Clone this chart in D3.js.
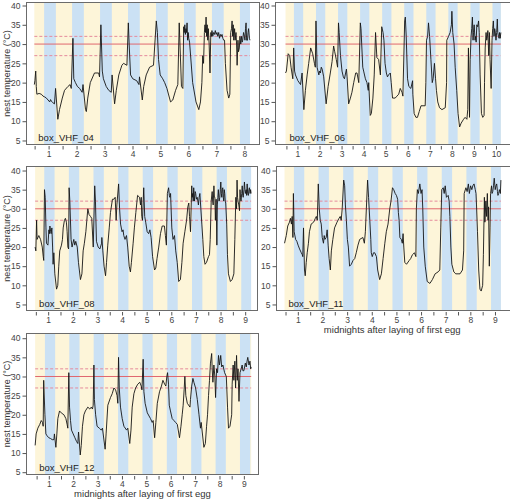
<!DOCTYPE html>
<html><head><meta charset="utf-8">
<script src="https://cdn.jsdelivr.net/npm/d3@7"></script>
<style>
html,body{margin:0;padding:0;background:#fff;}
svg{display:block;font-family:"Liberation Sans",Arial,sans-serif;}
</style></head>
<body>
<svg id="chart" width="510" height="502"></svg>
<script>
// ---------------- data ----------------
const yTicks = [5, 10, 15, 20, 25, 30, 35, 40];
const refSolid = 30;
const refDashed = [27, 32];
const nightStart = -0.16, nightEnd = 0.26; // relative to midnight (days)

const names = ["box_VHF_04", "box_VHF_06", "box_VHF_08", "box_VHF_11", "box_VHF_12"];
const xTitle = "midnights after laying of first egg";
const yTitle = "nest temperature (°C)";

const nights04 = [1,2,3,4,5,6,7,8];
const nights06 = [1,2,3,4,5,6,7,8,9,10];
const nights08 = [1,2,3,4,5,6,7,8,9];
const nights11 = [1,2,3,4,5,6,7,8,9];
const nights12 = [1,2,3,4,5,6,7,8,9];

const box04 = [[0.49,19.5],[0.51,20.5],[0.54,23],[0.56,19],[0.58,17],[0.66,17.2],[0.74,17],[0.80,16.5],[0.86,16.3],[0.92,16],[0.98,15.5],[1.04,15],[1.07,15.6],[1.10,15.2],[1.15,14.8],[1.21,14.5],[1.25,18.5],[1.33,10.5],[1.39,13],[1.49,16],[1.57,18],[1.69,19],[1.77,19.5],[1.81,18.5],[1.87,31.5],[1.90,21],[1.96,20],[2.03,19],[2.11,18.5],[2.20,17.5],[2.23,19.5],[2.32,13],[2.35,12.5],[2.40,16],[2.49,20],[2.64,22.5],[2.79,22.5],[2.82,21.5],[2.87,35],[2.92,23],[2.96,21],[3.06,19],[3.15,18],[3.24,17.5],[3.27,22],[3.36,14.5],[3.42,18],[3.51,22],[3.62,24.5],[3.68,25],[3.80,24.5],[3.85,35.5],[3.88,30],[3.93,22],[4.01,21],[4.15,20.5],[4.23,19.5],[4.25,21.5],[4.35,15.5],[4.40,19],[4.49,22],[4.61,24],[4.75,24.5],[4.85,36],[4.89,33],[4.93,26],[4.99,22],[5.08,21],[5.15,20],[5.23,18.5],[5.36,15],[5.44,15.5],[5.54,18],[5.62,19.5],[5.67,35.5],[5.75,19],[5.80,18.5],[5.83,34.5],[5.85,33],[5.87,35],[5.89,32.5],[5.91,34],[5.93,33],[5.95,35.5],[5.97,31],[5.99,33],[6.01,31.5],[6.04,30.5],[6.15,20],[6.27,15],[6.37,13],[6.43,15],[6.48,20],[6.51,27],[6.54,25],[6.57,33],[6.59,35],[6.61,33],[6.63,37],[6.65,32],[6.67,35],[6.69,31],[6.71,34],[6.74,30],[6.77,22.5],[6.80,33],[6.82,32],[6.84,33.5],[6.87,32],[6.90,33],[6.93,32.5],[6.96,33.5],[6.99,32.5],[7.02,33],[7.05,32],[7.08,33],[7.11,31.5],[7.14,32.5],[7.17,32],[7.20,32.5],[7.23,31.5],[7.26,31],[7.29,31],[7.32,25],[7.38,18],[7.44,16],[7.48,17],[7.51,33],[7.54,34],[7.56,36],[7.58,32],[7.60,35],[7.62,31],[7.65,34],[7.67,31],[7.70,33],[7.72,30],[7.74,24.5],[7.77,31],[7.79,28],[7.82,29],[7.84,32],[7.87,30],[7.90,32],[7.92,30.5],[7.94,31],[7.97,33],[8.00,32],[8.02,31],[8.04,34],[8.06,35.5],[8.08,31],[8.11,31],[8.13,33],[8.15,34],[8.18,31.5],[8.20,31]];

const box06 = [[0.46,22.5],[0.50,23],[0.58,27.5],[0.65,27],[0.71,24],[0.79,21],[0.83,29],[0.87,23],[0.91,22],[1.02,20.5],[1.14,19.5],[1.21,22.5],[1.29,13],[1.36,18],[1.44,22],[1.51,25],[1.60,29],[1.69,27.5],[1.77,25],[1.81,24],[1.84,36],[1.89,24],[1.97,22],[2.00,23],[2.04,22.5],[2.08,24],[2.12,23.5],[2.19,21.5],[2.30,14.5],[2.39,19],[2.49,22.5],[2.57,25.5],[2.64,29.5],[2.69,28],[2.76,26],[2.82,24],[2.86,35.5],[2.89,33],[2.95,27],[3.02,23],[3.08,21.5],[3.13,21],[3.22,23.5],[3.25,21.5],[3.32,14.5],[3.40,16],[3.47,17.5],[3.55,20],[3.64,22.5],[3.70,22.5],[3.78,20],[3.85,35.5],[3.88,34],[3.96,24],[4.00,23],[4.08,21],[4.15,20],[4.21,18],[4.23,20],[4.30,11.5],[4.35,12],[4.42,16],[4.48,22],[4.54,33],[4.60,26.5],[4.68,26],[4.76,22],[4.82,34.5],[4.88,33],[4.92,31],[4.97,25],[5.03,22.5],[5.08,21.5],[5.13,22],[5.21,22.5],[5.25,20],[5.31,16],[5.43,16],[5.51,16.5],[5.59,17],[5.66,18.5],[5.74,17.5],[5.78,16.5],[5.86,36],[5.89,37],[5.93,32],[5.99,21],[6.05,19],[6.14,18.5],[6.22,20.5],[6.23,17],[6.29,12],[6.37,11],[6.44,11],[6.52,12.5],[6.60,14],[6.79,14],[6.82,20],[6.85,31],[6.90,32],[6.94,35.5],[6.99,32],[7.05,26],[7.11,20],[7.15,21],[7.21,25],[7.26,21],[7.30,18],[7.36,15],[7.44,13.5],[7.55,13],[7.70,13.5],[7.76,20],[7.77,31],[7.85,32],[7.92,33],[7.98,35],[8.00,38.5],[8.04,33],[8.10,30],[8.15,24],[8.22,18],[8.28,12],[8.35,8.5],[8.42,9.5],[8.53,10.5],[8.60,11],[8.68,10.5],[8.72,13],[8.75,29],[8.80,11],[8.83,26],[8.87,32],[8.90,34],[8.93,37],[8.96,31],[8.98,33],[9.01,35],[9.05,31],[9.08,32],[9.10,30.5],[9.13,35],[9.17,34.5],[9.21,36],[9.24,33],[9.28,22],[9.34,12],[9.40,11],[9.46,11.5],[9.48,20],[9.51,29],[9.55,33],[9.58,31],[9.61,32],[9.63,33.5],[9.67,27],[9.70,33],[9.73,26],[9.78,18.5],[9.82,31],[9.85,34],[9.88,36],[9.91,32],[9.94,34],[9.96,33.5],[10.00,31],[10.03,33],[10.06,36.5],[10.08,33],[10.11,32],[10.14,31.5],[10.16,33],[10.19,31.5],[10.22,33]];

const box08 = [[0.47,20],[0.50,19],[0.53,27],[0.55,22],[0.62,23],[0.69,22],[0.76,20],[0.80,17.5],[0.82,16.5],[0.85,35],[0.88,33],[0.91,25],[0.93,21],[0.99,20.5],[1.03,24.5],[1.05,23.5],[1.07,25.5],[1.10,24],[1.12,23.5],[1.15,25],[1.18,20],[1.20,15.5],[1.23,18.5],[1.27,13],[1.34,9],[1.39,10],[1.43,15],[1.47,19],[1.54,20.5],[1.58,22],[1.61,25],[1.66,27],[1.70,27.5],[1.74,26.5],[1.77,24],[1.80,20],[1.83,19.5],[1.85,35.5],[1.88,32],[1.93,22],[1.97,20],[2.04,22],[2.08,20.5],[2.12,21.5],[2.18,20],[2.23,16],[2.31,11.5],[2.37,13],[2.42,19],[2.47,21],[2.53,24],[2.57,27],[2.61,30],[2.66,28.5],[2.72,28],[2.77,27.5],[2.83,20],[2.89,36],[2.92,32],[2.96,21.5],[3.03,20],[3.10,19.5],[3.17,21],[3.18,22.5],[3.22,19],[3.27,15],[3.33,12.5],[3.37,16],[3.42,20.5],[3.48,25],[3.53,29],[3.61,32.5],[3.67,32.5],[3.72,33],[3.76,27],[3.79,31],[3.86,36.5],[3.90,30],[3.94,26],[4.00,24],[4.04,24.5],[4.07,23],[4.12,22],[4.18,23],[4.23,20],[4.29,15],[4.34,13.5],[4.38,16],[4.45,21],[4.50,25],[4.56,29],[4.63,33.5],[4.71,33],[4.75,31],[4.78,33],[4.80,28],[4.83,27],[4.88,35.5],[4.92,28],[4.96,26.5],[5.02,24],[5.08,23.5],[5.13,24.5],[5.18,22.5],[5.24,17.5],[5.32,14],[5.37,14.5],[5.42,17],[5.49,20],[5.56,23.5],[5.63,25.5],[5.72,25.5],[5.76,23],[5.80,20.5],[5.84,34],[5.89,35.5],[5.92,33.5],[5.94,33],[5.97,34],[6.02,25],[6.07,22],[6.13,23],[6.18,19],[6.24,16],[6.30,11],[6.37,11.5],[6.43,16],[6.48,21],[6.55,24],[6.62,27],[6.67,30.5],[6.71,31.5],[6.74,28],[6.78,24],[6.83,36],[6.85,33],[6.87,34],[6.89,32],[6.91,35.5],[6.94,32],[6.97,34.5],[6.99,34],[7.02,32.5],[7.05,33],[7.08,32],[7.10,31],[7.13,33],[7.16,34],[7.20,30],[7.24,26],[7.28,22],[7.32,17.5],[7.37,15.5],[7.43,16],[7.51,17.5],[7.55,18],[7.58,22],[7.62,32],[7.66,34.5],[7.68,32],[7.70,31],[7.73,36],[7.75,33],[7.77,33],[7.79,27],[7.82,32.5],[7.85,20.5],[7.87,31],[7.89,33],[7.91,35],[7.94,32],[7.97,33],[7.99,35],[8.01,37],[8.03,34],[8.05,33],[8.07,35],[8.09,35.5],[8.11,33],[8.13,32],[8.15,35],[8.17,34],[8.19,32],[8.21,31.5],[8.25,26],[8.28,18],[8.32,13],[8.40,11],[8.47,11.5],[8.54,13],[8.58,22],[8.62,33],[8.65,30],[8.67,37.5],[8.69,33],[8.71,32],[8.74,31],[8.77,29.5],[8.79,35],[8.81,33],[8.83,32],[8.86,34],[8.88,36],[8.90,33.5],[8.92,33],[8.95,35],[8.97,37],[8.99,35],[9.01,34],[9.04,35],[9.06,33.5],[9.08,36.5],[9.10,34],[9.13,33.5],[9.15,35],[9.17,35.5],[9.20,34],[9.22,35],[9.24,34]];

const box11 = [[0.46,21],[0.53,23],[0.59,25.5],[0.66,26.5],[0.70,27.5],[0.74,26],[0.77,28],[0.80,22.5],[0.82,34],[0.85,24],[0.91,22],[0.96,21.5],[1.01,20.5],[1.07,19.5],[1.14,18.5],[1.18,18],[1.20,17.5],[1.23,25],[1.27,14],[1.30,12.5],[1.34,16],[1.38,18.5],[1.43,21],[1.47,24],[1.54,26],[1.64,26.5],[1.71,27.5],[1.75,28],[1.79,27],[1.83,36.5],[1.87,30],[1.91,27],[1.95,26],[1.99,22.5],[2.04,21],[2.07,23],[2.10,22],[2.15,22.5],[2.19,24.5],[2.23,20.5],[2.27,17],[2.32,14],[2.36,19],[2.42,22],[2.49,25],[2.59,26.5],[2.67,27.5],[2.72,28],[2.76,27],[2.80,30],[2.86,37.5],[2.90,36],[2.93,31],[2.97,27],[3.01,22],[3.05,20],[3.10,15],[3.17,15.5],[3.24,16.5],[3.31,17],[3.37,18.5],[3.44,20.5],[3.51,22],[3.64,22.5],[3.70,21],[3.74,24],[3.78,30],[3.83,37.5],[3.87,33],[3.92,27],[3.96,22],[3.98,18.5],[4.02,17.5],[4.07,18.5],[4.12,18.5],[4.19,17.5],[4.24,14],[4.32,11.5],[4.39,13],[4.46,17],[4.53,21],[4.59,24],[4.66,26],[4.73,30],[4.78,32],[4.84,35.5],[4.89,35],[4.95,34],[5.00,33.5],[5.05,32.5],[5.08,29],[5.11,27],[5.14,22.5],[5.20,22],[5.24,21],[5.27,23.5],[5.30,20],[5.34,16],[5.41,15.5],[5.52,16.5],[5.58,17],[5.65,18],[5.73,18.5],[5.79,17.5],[5.81,30],[5.85,35],[5.89,34],[5.95,36.5],[6.00,34],[6.04,35],[6.07,30],[6.11,20],[6.17,15],[6.25,11],[6.36,10.5],[6.46,11.5],[6.57,13],[6.69,13.5],[6.76,14],[6.80,25],[6.84,35],[6.90,35.5],[6.94,34],[6.98,36],[7.03,33],[7.10,33.5],[7.14,32],[7.17,28],[7.21,20],[7.25,15.5],[7.33,13.5],[7.41,13],[7.58,13],[7.68,14],[7.73,19],[7.75,34],[7.82,35.5],[7.87,34.5],[7.92,36.5],[7.96,34],[8.01,36],[8.06,35],[8.10,36],[8.15,36.5],[8.20,35],[8.23,34],[8.25,31],[8.29,24],[8.34,14],[8.39,9],[8.44,8.5],[8.50,10],[8.53,18],[8.57,33],[8.59,26.5],[8.63,32],[8.66,28],[8.69,34],[8.72,27],[8.74,30.5],[8.77,15],[8.80,25],[8.82,34],[8.86,36],[8.88,34],[8.91,34.5],[8.94,36],[8.97,38],[9.01,35],[9.04,36],[9.07,36.5],[9.10,34.5],[9.12,33.5],[9.15,34],[9.18,35],[9.22,34],[9.24,37.5]];

const box12 = [[0.44,12],[0.48,15],[0.55,16.5],[0.63,17.5],[0.69,18.5],[0.74,18],[0.77,17],[0.79,29],[0.84,20],[0.88,15],[0.93,14.5],[1.00,14],[1.07,13.8],[1.14,13.5],[1.21,13.5],[1.23,15],[1.29,11.5],[1.33,15],[1.37,19],[1.44,21],[1.51,20.5],[1.62,20],[1.70,19],[1.75,17.5],[1.78,16.5],[1.82,31],[1.85,22],[1.89,18.5],[1.93,16],[2.00,15],[2.07,14],[2.14,13],[2.19,12.5],[2.22,15.5],[2.29,9.5],[2.33,12],[2.38,17],[2.44,20],[2.50,21],[2.60,22],[2.68,21.5],[2.74,22],[2.79,21.5],[2.82,22.5],[2.85,33],[2.87,24],[2.92,20],[2.98,17],[3.07,16.5],[3.15,16],[3.20,16.5],[3.31,11],[3.35,15],[3.42,22.5],[3.53,24.5],[3.60,25.5],[3.67,27],[3.74,26.5],[3.80,25],[3.83,23],[3.86,35],[3.89,27],[3.94,22],[4.01,19],[4.08,17],[4.19,16],[4.24,16.5],[4.32,12.5],[4.37,16],[4.42,22],[4.49,25.5],[4.56,27],[4.65,28],[4.73,28.5],[4.79,27.5],[4.82,26.5],[4.87,34.5],[4.90,26],[4.95,23],[5.04,20.5],[5.17,19],[5.24,18],[5.28,18.5],[5.34,14],[5.39,18],[5.45,23],[5.54,26],[5.62,27.5],[5.68,29],[5.75,28],[5.80,27.5],[5.84,30],[5.87,31],[5.91,28],[5.94,22.5],[5.99,21],[6.06,19],[6.13,18.5],[6.20,18],[6.27,17.5],[6.36,14],[6.42,17],[6.47,20],[6.51,22.5],[6.55,26.5],[6.58,30],[6.62,25],[6.68,23],[6.79,22],[6.81,24],[6.86,27.5],[6.91,29.5],[6.95,28.5],[7.02,27],[7.09,24],[7.16,20],[7.22,16.5],[7.25,18],[7.36,11.5],[7.42,12.5],[7.47,17],[7.51,20],[7.55,25],[7.59,29],[7.63,33.5],[7.68,36],[7.70,32],[7.73,28.5],[7.77,33],[7.81,30],[7.84,24.5],[7.88,32],[7.92,31],[7.96,35.5],[8.00,33],[8.02,34],[8.05,35.5],[8.09,32.5],[8.14,33],[8.21,31],[8.28,30],[8.33,22],[8.37,16.5],[8.43,17],[8.50,20],[8.52,28],[8.56,33],[8.59,29],[8.63,34],[8.66,27],[8.70,35.5],[8.73,29],[8.76,32],[8.80,23.5],[8.84,31],[8.89,32],[8.93,33],[8.96,31.5],[9.00,31.5],[9.03,32.5],[9.06,33.5],[9.10,32.5],[9.13,34],[9.16,35],[9.21,33],[9.25,34],[9.28,32],[9.30,32.5]];

// ---------------- layout ----------------
const panels = [
  {name: names[0], data: box04, nights: nights04, L: 26.5, R: 259.5, T: 2.5, B: 144.5, xd: [0.21, 8.54], yd: [3.96, 40.78], ytitle: true, xtitle: false},
  {name: names[1], data: box06, nights: nights06, L: 275.5, R: 511, T: 2.5, B: 144.5, xd: [0.005, 10.68], yd: [3.96, 40.78], ytitle: false, xtitle: false},
  {name: names[2], data: box08, nights: nights08, L: 26.5, R: 257.5, T: 166.5, B: 310.5, xd: [0.12, 9.50], yd: [3.42, 41.05], ytitle: true, xtitle: false},
  {name: names[3], data: box11, nights: nights11, L: 276.5, R: 511, T: 166.5, B: 310.5, xd: [0.134, 9.65], yd: [3.42, 41.05], ytitle: false, xtitle: true},
  {name: names[4], data: box12, nights: nights12, L: 26.5, R: 258.5, T: 333.5, B: 474.5, xd: [0.085, 9.60], yd: [4.4, 41.23], ytitle: true, xtitle: true}
];

const svg = d3.select("#chart");
const DAY = "#fdf5d9", NIGHT = "#cbe1f4";

panels.forEach(p => {
  const x = d3.scaleLinear().domain(p.xd).range([p.L, p.R]);
  const y = d3.scaleLinear().domain(p.yd).range([p.B, p.T]);
  const g = svg.append("g");
  const t0 = p.data[0][0], t1 = p.data[p.data.length - 1][0];

  // day background
  g.append("rect").attr("x", x(t0)).attr("y", p.T).attr("width", x(t1) - x(t0)).attr("height", p.B - p.T).attr("fill", DAY);
  // nights
  g.selectAll("rect.n").data(p.nights).join("rect").attr("class", "n")
    .attr("x", n => x(Math.max(t0, n + nightStart)))
    .attr("width", n => x(Math.min(t1, n + nightEnd)) - x(Math.max(t0, n + nightStart)))
    .attr("y", p.T).attr("height", p.B - p.T).attr("fill", NIGHT);

  // reference lines
  g.append("line").attr("x1", x(t0)).attr("x2", x(t1)).attr("y1", y(refSolid)).attr("y2", y(refSolid))
    .attr("stroke", "#e0676f").attr("stroke-width", 1);
  refDashed.forEach(v => {
    g.append("line").attr("x1", x(t0)).attr("x2", x(t1)).attr("y1", y(v)).attr("y2", y(v))
      .attr("stroke", "#e58a9c").attr("stroke-width", 1).attr("stroke-dasharray", "3,2");
  });

  // temperature line
  g.append("path").datum(p.data)
    .attr("d", d3.line().x(d => x(d[0])).y(d => y(d[1])))
    .attr("fill", "none").attr("stroke", "#151515").attr("stroke-width", 0.9).attr("stroke-linejoin", "round");

  // frame
  g.append("rect").attr("x", p.L).attr("y", p.T).attr("width", p.R - p.L).attr("height", p.B - p.T)
    .attr("fill", "none").attr("stroke", "#6b6b6b").attr("stroke-width", 1);

  // y axis
  const ya = g.append("g").attr("transform", `translate(${p.L},0)`)
    .call(d3.axisLeft(y).tickValues(yTicks).tickSize(4).tickPadding(2).tickFormat(d3.format("d")));
  ya.select(".domain").remove();
  ya.selectAll("line").attr("stroke", "#555");
  ya.selectAll("text").attr("fill", "#444").attr("font-size", 8.5).attr("font-family", "Liberation Sans, Arial, sans-serif");

  // x axis: ticks every half day, labels on whole days
  const last = p.nights[p.nights.length - 1];
  const xt = d3.range(1, 2 * last + 1).map(i => i / 2);
  const xa = g.append("g").attr("transform", `translate(0,${p.B + 1.5})`)
    .call(d3.axisBottom(x).tickValues(xt).tickSize(3.5).tickPadding(1.5).tickFormat(d => Number.isInteger(d) ? d : ""));
  xa.select(".domain").remove();
  xa.selectAll("line").attr("stroke", "#555");
  xa.selectAll("text").attr("fill", "#444").attr("font-size", 8.5).attr("font-family", "Liberation Sans, Arial, sans-serif");

  // panel label
  g.append("text").attr("x", x(t0) + 4).attr("y", p.B - 3.5).text(p.name)
    .attr("font-size", 9.5).attr("fill", "#222");

  if (p.ytitle) {
    g.append("text").attr("transform", `translate(9.5,${(p.T + p.B) / 2}) rotate(-90)`)
      .attr("text-anchor", "middle").attr("font-size", 9).attr("fill", "#333").text(yTitle);
  }
  if (p.xtitle) {
    g.append("text").attr("x", (p.L + Math.min(p.R, 510)) / 2 + (p.R > 300 ? -1 : 0)).attr("y", p.B + 22)
      .attr("text-anchor", "middle").attr("font-size", 9.5).attr("fill", "#333").text(xTitle);
  }
});
</script>
</body></html>
